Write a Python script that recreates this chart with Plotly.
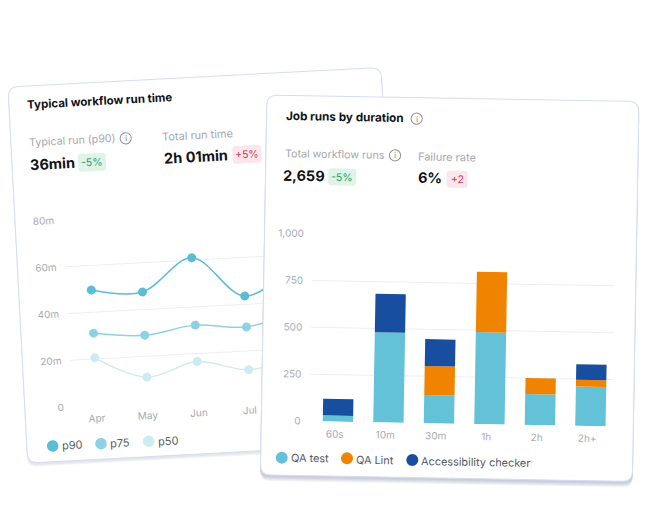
import math
import plotly.graph_objects as go

W, H = 670, 520

# ---- data ----
months = ["Apr", "May", "Jun", "Jul", "Aug"]
p90 = [49.5, 47.5, 61, 43.5, 56]
p75 = [31, 29, 32.2, 30.3, 36]
p50 = [20.5, 11.1, 16.6, 12, 17]
run_ticks = [0, 20, 40, 60, 80]
run_tick_labels = ["0", "20m", "40m", "60m", "80m"]

durations = ["60s", "10m", "30m", "1h", "2h", "2h+"]
qa_test = [32, 480, 150, 490, 165, 210]
qa_lint = [0, 0, 155, 322, 85, 36]
accessibility = [89, 205, 143, 0, 0, 82]
job_ticks = [0, 250, 500, 750, 1000]
job_tick_labels = ["0", "250", "500", "750", "1,000"]

C_P90, C_P75, C_P50 = "#5BBCD5", "#8DD2E4", "#CDECF2"
C_TEST, C_LINT, C_ACC = "#63C1D8", "#F08300", "#174EA0"
GRID = "#ECEEF3"
TICK = "#A6AAB1"
MUTED = "#A3A7AE"
DARK = "#111318"
LEG = "#555A64"
BORDER = "#D6DCF1"
FONT = "Inter"

# frames: picture-space centre of each plot area and its rotation
L = dict(a=-3.0, cx=220.8, cy=305.5, w=306.0, h=187.3, xa="x domain", ya="y domain")
R = dict(a=1.0, cx=462.75, cy=330.0, w=303.0, h=187.6, xa="x2 domain", ya="y2 domain")


def unrot(f, x, y):
    t = math.radians(-f["a"])
    dx, dy = x - f["cx"], y - f["cy"]
    return (f["cx"] + math.cos(t) * dx - math.sin(t) * dy,
            f["cy"] + math.sin(t) * dx + math.cos(t) * dy)


def dom(f, x, y):
    return ((x - (f["cx"] - f["w"] / 2)) / f["w"], 1 - (y - (f["cy"] - f["h"] / 2)) / f["h"])


def rrect_path(f, x0, y0, x1, y1, r):
    pts = [("M", x0 + r, y0), ("L", x1 - r, y0), ("Q", x1, y0, x1, y0 + r), ("L", x1, y1 - r),
           ("Q", x1, y1, x1 - r, y1), ("L", x0 + r, y1), ("Q", x0, y1, x0, y1 - r),
           ("L", x0, y0 + r), ("Q", x0, y0, x0 + r, y0)]
    out = []
    for p in pts:
        c = p[0]
        vals = p[1:]
        s = []
        for i in range(0, len(vals), 2):
            dx, dy = dom(f, vals[i], vals[i + 1])
            s.append(f"{dx:.5f},{dy:.5f}")
        out.append(c + " ".join(s))
    return " ".join(out) + " Z"


shapes = []


def card(f, tlx, tly, w, h, r=10, shadow=(4, 3, 2), shadow_alpha=0.06):
    x0, y0 = unrot(f, tlx, tly)
    for off in shadow:
        shapes.append(dict(type="path", xref=f["xa"], yref=f["ya"], layer="below",
                           path=rrect_path(f, x0 - 0.5, y0 + off, x0 + w + 0.5, y0 + h + off, r),
                           fillcolor=f"rgba(90,100,140,{shadow_alpha})", line=dict(width=0)))
    shapes.append(dict(type="path", xref=f["xa"], yref=f["ya"], layer="below",
                       path=rrect_path(f, x0, y0, x0 + w, y0 + h, r),
                       fillcolor="white", line=dict(color=BORDER, width=1)))


def pill(f, cx, cy, w, h, color):
    x, y = unrot(f, cx, cy)
    shapes.append(dict(type="path", xref=f["xa"], yref=f["ya"], layer="below",
                       path=rrect_path(f, x - w / 2, y - h / 2, x + w / 2, y + h / 2, 3),
                       fillcolor=color, line=dict(width=0)))


def circle(f, cx, cy, r, fill=None, stroke=None):
    x, y = unrot(f, cx, cy)
    ax0, ay0 = dom(f, x - r, y + r)
    ax1, ay1 = dom(f, x + r, y - r)
    shapes.append(dict(type="circle", xref=f["xa"], yref=f["ya"], layer="below",
                       x0=ax0, x1=ax1, y0=ay0, y1=ay1,
                       fillcolor=fill or "rgba(0,0,0,0)",
                       line=dict(color=stroke, width=1) if stroke else dict(width=0)))


annotations = []


def text(f, s, x, y, size, color, bold=False):
    annotations.append(dict(text=f"<b>{s}</b>" if bold else s, xref="paper", yref="paper",
                            x=x / W, y=1 - y / H, xanchor="center", yanchor="middle",
                            showarrow=False, textangle=f["a"],
                            font=dict(family=FONT, size=size, color=color)))


def info(f, x, y):
    circle(f, x, y, 5.6, stroke="#8C9097")
    text(f, "i", x, y, 8, "#7E8289")


# left card
card(L, 8, 87, 373.5, 376.5)
text(L, "Typical workflow run time", 99.5, 101, 11.5, DARK, True)
text(L, "Typical run (p90)", 72, 141, 10.7, MUTED)
info(L, 125.7, 138.3)
text(L, "36min", 52, 163.3, 14.5, DARK, True)
pill(L, 92, 162.3, 27.7, 18, "#DFF3E7")
text(L, "-5%", 92, 162.3, 10.5, "#2D9F6C")
text(L, "Total run time", 197.7, 134.7, 11, MUTED)
text(L, "2h 01min", 196, 156, 14.5, DARK, True)
pill(L, 247, 154.3, 29, 18, "#FBE7EB")
text(L, "+5%", 247, 154.3, 10.5, "#C8405F")
for name, col, dot, lab in [("p90", C_P90, (52.7, 446), (72, 445)),
                            ("p75", C_P75, (101, 443.7), (120, 443)),
                            ("p50", C_P50, (148.7, 441.3), (167.7, 440.7))]:
    circle(L, dot[0], dot[1], 5.8, fill=col)
    text(L, name, lab[0], lab[1], 11, LEG)
N_LEFT = len(shapes)

# right card
card(R, 267, 95, 372, 380, shadow=(6, 5, 4, 3, 2), shadow_alpha=0.07)
text(R, "Job runs by duration", 345.3, 116.7, 11.7, DARK, True)
info(R, 416.7, 118.7)
text(R, "Total workflow runs", 334.7, 154.3, 10.7, MUTED)
info(R, 395, 155.3)
text(R, "2,659", 304.3, 175, 14.5, DARK, True)
pill(R, 342.3, 177, 28, 17, "#DFF3E7")
text(R, "-5%", 342.3, 177, 10.5, "#2D9F6C")
text(R, "Failure rate", 447.3, 156.7, 11, MUTED)
text(R, "6%", 430.3, 177.7, 14.5, DARK, True)
pill(R, 457, 179.3, 21, 17, "#FBE7EB")
text(R, "+2", 457, 179.3, 10.5, "#C8405F")
for name, col, dot, lab in [("QA test", C_TEST, (281.7, 457.7), (309.7, 458.3)),
                            ("QA Lint", C_LINT, (347, 458.3), (375, 459.7)),
                            ("Accessibility checker", C_ACC, (412.3, 460), (475.7, 461.7))]:
    circle(R, dot[0], dot[1], 6, fill=col)
    text(R, name, lab[0], lab[1], 10.9, LEG)

fig = go.Figure()
for name, vals, col in [("p50", p50, C_P50), ("p75", p75, C_P75), ("p90", p90, C_P90)]:
    fig.add_trace(go.Scatter(x=months, y=vals, name=name, mode="lines+markers",
                             line=dict(color=col, width=1.5, shape="spline", smoothing=1.0),
                             marker=dict(color=col, size=9), showlegend=False,
                             xaxis="x", yaxis="y"))
for name, vals, col in [("QA test", qa_test, C_TEST), ("QA Lint", qa_lint, C_LINT),
                        ("Accessibility checker", accessibility, C_ACC)]:
    fig.add_trace(go.Bar(x=durations, y=vals, name=name, marker=dict(color=col, line=dict(width=0)),
                         showlegend=False, xaxis="x2", yaxis="y2"))


def xdom(f):
    return [(f["cx"] - f["w"] / 2) / W, (f["cx"] + f["w"] / 2) / W]


def ydom(f):
    return [1 - (f["cy"] + f["h"] / 2) / H, 1 - (f["cy"] - f["h"] / 2) / H]


tickfont = dict(family=FONT, size=10, color=TICK)
fig.update_layout(
    width=W, height=H, autosize=False, margin=dict(l=0, r=0, t=0, b=0, pad=0, autoexpand=False),
    paper_bgcolor="white", plot_bgcolor="rgba(0,0,0,0)", showlegend=False,
    barmode="stack", bargap=0.4, shapes=shapes, annotations=annotations,
    xaxis=dict(domain=xdom(L), anchor="y", type="category", categoryorder="array",
               categoryarray=months, range=[-0.48, 5.52], showgrid=False, showline=False, automargin=False,
               zeroline=False, ticks="", tickfont=tickfont, ticklabelstandoff=5, ticklabelshift=-1),
    yaxis=dict(domain=ydom(L), anchor="x", range=[0, 80], tickvals=run_ticks, automargin=False,
               ticktext=run_tick_labels, gridcolor=GRID, gridwidth=1, zeroline=False,
               showline=False, ticks="", tickfont=tickfont, ticklabelstandoff=8),
    xaxis2=dict(domain=xdom(R), anchor="y2", type="category", categoryorder="array", automargin=False,
                categoryarray=durations, range=[-0.56, 5.44], showgrid=False, showline=False,
                zeroline=False, ticks="", tickfont=tickfont, ticklabelstandoff=5, ticklabelshift=-3),
    yaxis2=dict(domain=ydom(R), anchor="x2", range=[0, 1000], tickvals=job_ticks, automargin=False,
                ticktext=job_tick_labels, gridcolor=GRID, gridwidth=1, zeroline=False,
                showline=False, ticks="", tickfont=tickfont, ticklabelstandoff=8),
)

# The two cards are tilted: each subplot group is rotated, its shapes are moved into the
# group so that the right card covers the left chart, and crisp edges are switched off.
post = f"""
document.body.style.margin = '0';
var gd = document.getElementById('{{plot_id}}');
var leftPlot = gd.querySelector('.subplot.xy');
var rightPlot = gd.querySelector('.subplot.x2y2');
var leftLayer = leftPlot.querySelector('.layer-subplot .shapelayer');
var rightLayer = rightPlot.querySelector('.layer-subplot .shapelayer');
var lower = gd.querySelector('.layer-below .shapelayer');
Array.from(lower.querySelectorAll('path')).forEach(function (p) {{
  var i = parseInt(p.getAttribute('data-index'), 10);
  (i < {N_LEFT} ? leftLayer : rightLayer).appendChild(p);
}});
leftPlot.setAttribute('transform', 'rotate({L['a']} {L['cx']} {L['cy']})');
rightPlot.setAttribute('transform', 'rotate({R['a']} {R['cx']} {R['cy']})');
gd.querySelectorAll('.subplot path').forEach(function (p) {{
  p.style.shapeRendering = 'geometricPrecision';
}});
"""
fig.write_html("out.html", post_script=post, config=dict(displayModeBar=False))
